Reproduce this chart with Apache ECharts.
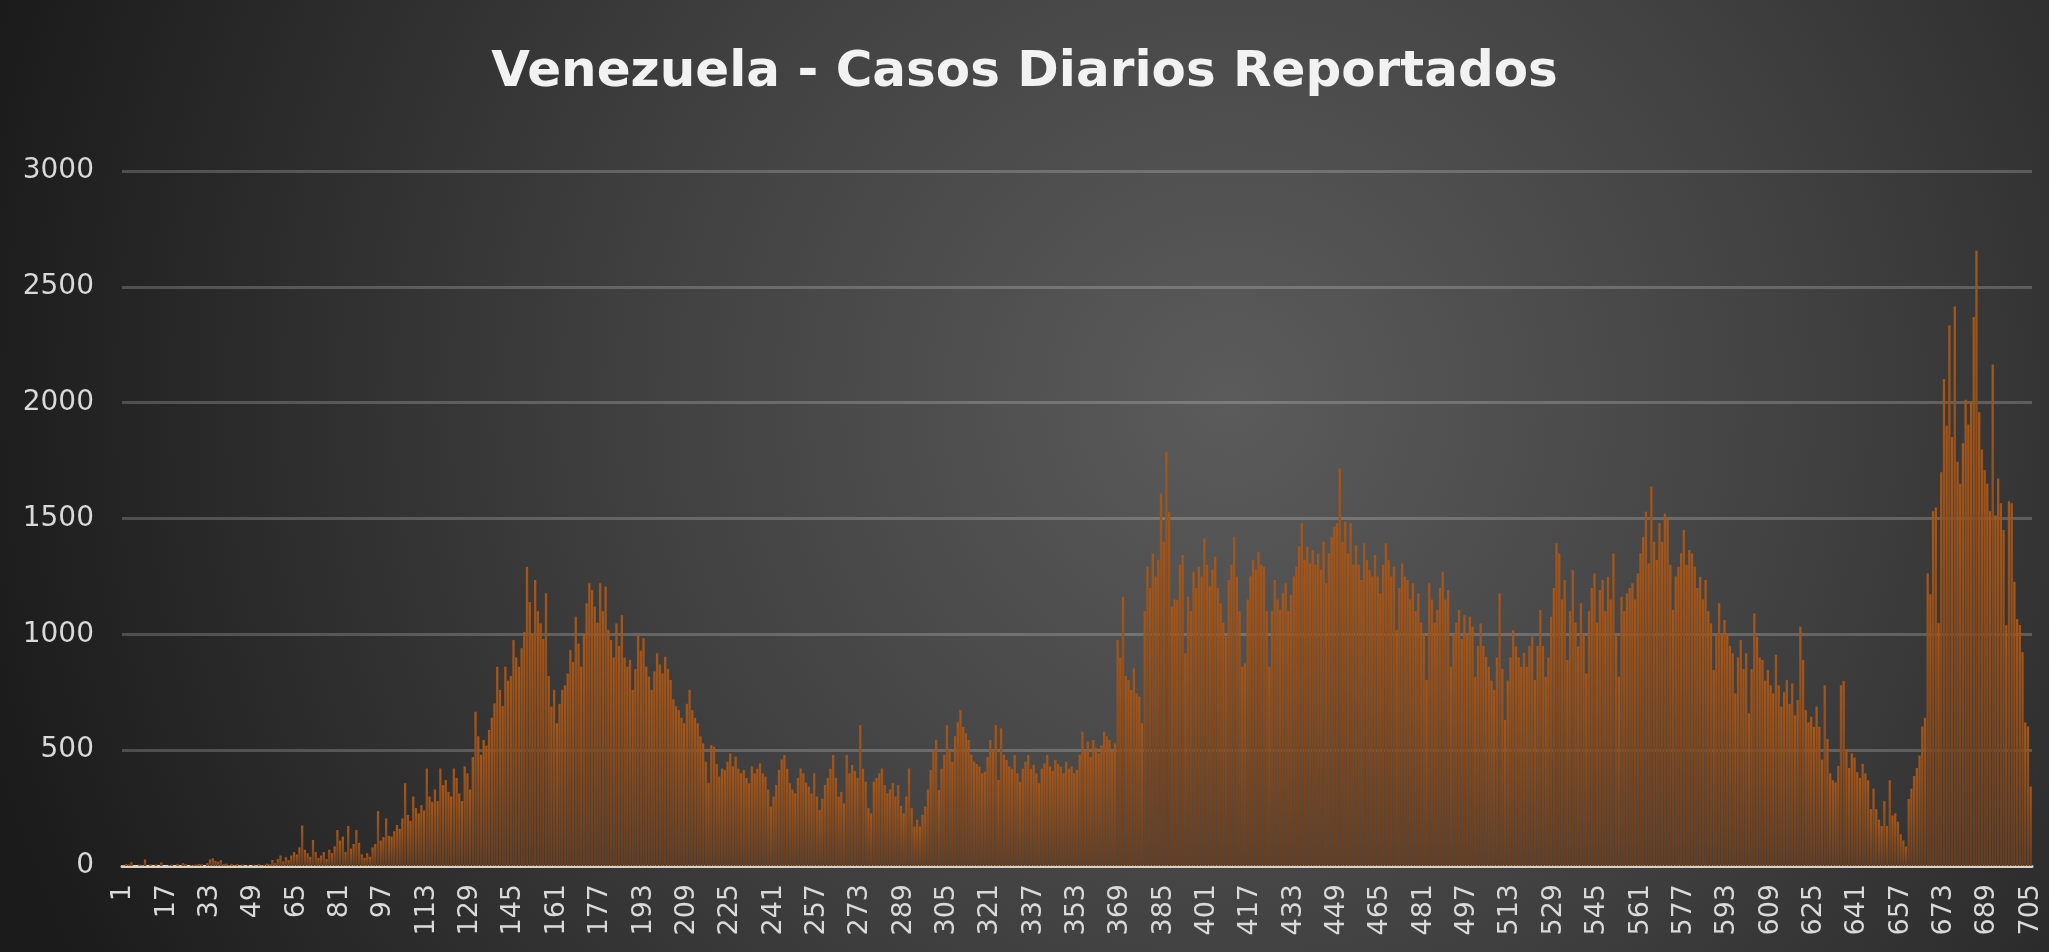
<!DOCTYPE html>
<html>
<head>
<meta charset="utf-8">
<script src="https://cdn.jsdelivr.net/npm/echarts@6/dist/echarts.min.js"></script>
<style>
  html, body { margin: 0; padding: 0; background: #1e1e1e; }
  #chart { width: 2049px; height: 952px; }
</style>
</head>
<body>
<div id="chart"></div>
<script>
// casos diarios reportados, dia 1 .. 705
const casos1 = [
  2, 8, 7, 16, 0, 0, 6, 3, 28, 0,
  7, 0, 7, 0, 15, 0, 0, 4, 6, 0,
  9, 1, 12, 8, 0, 4, 5, 6, 8, 7,
  0, 12, 28, 33, 22, 18, 25, 8, 10, 4,
  9, 3, 8, 2, 6, 1, 4, 0, 5, 2,
  8, 3, 5, 10, 7, 26, 12, 30, 45, 20,
  38, 25, 45, 60, 50, 80, 175, 70, 55, 40,
  112, 60, 35, 45, 60, 30, 70, 55, 85, 155,
  110, 127, 60, 173, 75, 95, 155, 100, 50, 35,
  55, 40, 80, 95, 237, 110, 125, 205, 130, 127
]
const casos2 = [
  150, 177, 160, 205, 357, 220, 195, 300, 250, 227,
  263, 240, 421, 300, 277, 330, 280, 421, 350, 371,
  320, 300, 421, 380, 313, 280, 430, 400, 330, 470,
  666, 560, 480, 544, 520, 587, 640, 702, 860, 760,
  690, 860, 800, 820, 975, 900, 860, 940, 1010, 1292,
  1140, 1000, 1234, 1100, 1047, 980, 1177, 820, 688, 760,
  616, 700, 760, 780, 831, 932, 880, 1076, 960, 860,
  1000, 1134, 1220, 1191, 1119, 1050, 1220, 1100, 1206, 1020,
  975, 900, 1047, 950, 1083, 900, 860, 889, 760, 850,
  1004, 930, 983, 860, 817, 760, 840, 918, 870, 831
]
const casos3 = [
  903, 850, 803, 720, 690, 673, 640, 616, 700, 760,
  673, 640, 616, 560, 529, 450, 357, 522, 515, 440,
  386, 420, 414, 450, 486, 430, 472, 420, 400, 414,
  380, 357, 430, 400, 420, 443, 400, 386, 330, 256,
  300, 350, 414, 460, 479, 420, 357, 330, 314, 380,
  421, 400, 360, 342, 313, 400, 300, 242, 290, 350,
  380, 420, 479, 380, 299, 320, 270, 479, 400, 436,
  410, 380, 608, 420, 364, 250, 227, 364, 380, 400,
  421, 350, 313, 330, 357, 300, 350, 260, 227, 300,
  421, 250, 170, 200, 170, 220, 256, 330, 414, 500
]
const casos4 = [
  544, 328, 420, 480, 608, 500, 450, 560, 620, 673,
  600, 573, 544, 480, 450, 440, 429, 400, 407, 470,
  544, 500, 608, 371, 594, 480, 457, 430, 420, 479,
  400, 364, 420, 450, 479, 420, 436, 400, 357, 420,
  443, 479, 430, 410, 457, 440, 429, 400, 450, 420,
  429, 400, 414, 480, 580, 500, 537, 470, 544, 510,
  486, 520, 580, 560, 544, 500, 529, 975, 900, 1162,
  820, 803, 760, 853, 745, 731, 616, 1100, 1292, 1200,
  1349, 1250, 1320, 1608, 1400, 1788, 1529, 1119, 1150, 1148,
  1300, 1342, 918, 1162, 1100, 1270, 1200, 1292, 1250, 1414
]
const casos5 = [
  1300, 1206, 1280, 1335, 1200, 1134, 1050, 990, 1234, 1300,
  1421, 1249, 1100, 860, 875, 1150, 1250, 1321, 1280, 1357,
  1300, 1292, 1100, 860, 1100, 1234, 1150, 1105, 1180, 1220,
  1100, 1170, 1250, 1292, 1380, 1479, 1321, 1378, 1306, 1364,
  1300, 1349, 1280, 1400, 1220, 1350, 1420, 1464, 1479, 1716,
  1400, 1486, 1350, 1479, 1300, 1385, 1300, 1234, 1393, 1320,
  1277, 1250, 1342, 1250, 1177, 1300, 1393, 1320, 1250, 1292,
  1018, 1200, 1306, 1250, 1234, 1150, 1220, 1100, 1177, 1050,
  1004, 803, 1220, 1150, 1050, 1105, 1200, 1270, 1150, 1191,
  860, 1000, 1050, 1105, 980, 1083, 1000, 1076, 1033, 817
]
const casos6 = [
  950, 1047, 950, 903, 860, 800, 760, 900, 1177, 850,
  630, 800, 900, 1018, 947, 900, 860, 920, 860, 950,
  990, 803, 950, 1105, 950, 817, 900, 1076, 1200, 1393,
  1349, 1150, 1234, 889, 1100, 1277, 1050, 947, 1134, 1000,
  832, 1100, 1200, 1263, 1050, 1191, 1234, 1100, 1249, 1150,
  1349, 1000, 817, 1162, 1100, 1177, 1200, 1220, 1150, 1263,
  1350, 1421, 1529, 1306, 1637, 1400, 1321, 1479, 1400, 1522,
  1493, 1300, 1105, 1250, 1292, 1350, 1450, 1300, 1364, 1349,
  1292, 1200, 1249, 1150, 1234, 1100, 1047, 846, 1000, 1134,
  1000, 1062, 1004, 950, 918, 745, 900, 975, 850, 918
]
const casos7 = [
  659, 850, 1090, 990, 900, 889, 800, 846, 780, 745,
  911, 780, 688, 750, 803, 700, 788, 650, 716, 1033,
  889, 673, 620, 644, 600, 688, 601, 459, 780, 548,
  400, 370, 361, 432, 780, 798, 500, 423, 486, 468,
  405, 380, 441, 400, 370, 245, 334, 245, 200, 173,
  280, 173, 370, 218, 227, 191, 137, 110, 84, 289,
  334, 388, 423, 477, 602, 640, 1263, 1173, 1531, 1548,
  1048, 1700, 2102, 1900, 2334, 1852, 2415, 1745, 1650, 1825,
  2013, 1906, 2004, 2370, 2656, 1959, 1798, 1709, 1650, 1531,
  2165, 1513, 1673, 1566, 1450, 1039, 1575, 1566, 1227, 1066,
  1040, 923, 620, 602, 343
]
const casos = casos1.concat(casos2, casos3, casos4, casos5, casos6, casos7)

// dias 1..705 como categorias
const dias = casos.map((v, i) => String(i + 1))

const yTicks = [0, 500, 1000, 1500, 2000, 2500, 3000]

var chart = echarts.init(document.getElementById('chart'), null, { renderer: 'canvas' })

var option = {
  animation: false,
  backgroundColor: {
    type: 'radial',
    x: 0.6, y: 0.42, r: 1.35,
    colorStops: [
      { offset: 0, color: '#5b5b5b' },
      { offset: 0.45, color: '#414141' },
      { offset: 1, color: '#1b1b1b' }
    ]
  },
  title: {
    text: 'Venezuela - Casos Diarios Reportados',
    left: 'center',
    top: 43,
    textStyle: {
      color: '#f2f2f2',
      fontFamily: 'DejaVu Sans',
      fontWeight: 'bold',
      fontSize: 50
    }
  },
  grid: {
    left: 122,
    right: 17,
    top: 171,
    bottom: 86
  },
  xAxis: {
    type: 'category',
    data: dias,
    axisLine: { lineStyle: { color: '#d9d1c3', width: 3 } },
    axisTick: { show: false },
    axisLabel: {
      interval: 15,
      rotate: 90,
      margin: 18,
      color: '#d9d9d9',
      fontFamily: 'DejaVu Sans',
      fontSize: 27
    }
  },
  yAxis: {
    type: 'value',
    min: yTicks[0],
    max: yTicks[yTicks.length - 1],
    interval: 500,
    axisLine: { show: false },
    axisTick: { show: false },
    axisLabel: {
      margin: 28,
      color: '#d9d9d9',
      fontFamily: 'DejaVu Sans',
      fontSize: 28,
      formatter: (v) => String(v)
    },
    splitLine: { lineStyle: { color: 'rgba(255,255,255,0.2)', width: 3 } }
  },
  series: [{
    type: 'bar',
    data: casos,
    barCategoryGap: '15%',
    itemStyle: {
      color: {
        type: 'linear', x: 0, y: 0, x2: 0, y2: 1,
        colorStops: [
          { offset: 0, color: '#a65618' },
          { offset: 1, color: '#633f25' }
        ]
      }
    }
  }]
}

chart.setOption(option)
</script>
</body>
</html>
